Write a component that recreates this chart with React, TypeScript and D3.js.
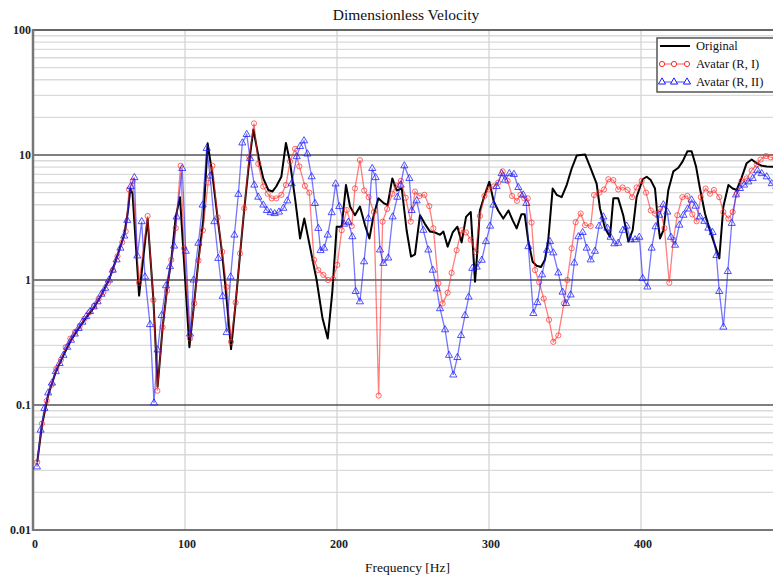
import React from "react";
import * as d3 from "d3";

const W = 773;
const H = 583;

const title = "Dimensionless Velocity";
const xLabel = "Frequency [Hz]";
const xTicks = [0, 100, 200, 300, 400];
const yTicks = [0.01, 0.1, 1, 10, 100];
const yTickLabels = ["0.01", "0.1", "1", "10", "100"];
const seriesNames = ["Original", "Avatar (R, I)", "Avatar (R, II)"];

const origFreq = [2.8, 6, 10, 15, 20, 25, 30, 35, 40, 45, 50, 55, 60, 62.5, 64, 65.5, 69.8, 75.4, 79.2, 82, 85.3, 88.2, 91, 93.9, 96.7, 102.9, 106, 109, 112, 114.9, 118, 121.5, 124.5, 127.4, 130.3, 133.3, 136.2, 139, 142.3, 145, 148.9, 151.5, 154.8, 157.5, 160, 163.4, 166.4, 169, 172.4, 175.7, 178.5, 182, 186.6, 190.4, 193.9, 196.9, 199.8, 203.1, 205.9, 208.6, 211.8, 215.1, 218.4, 221.3, 223.9, 227.2, 231, 233.3, 236.4, 239.3, 242.6, 245.8, 248.7, 251.3, 254.6, 257.9, 261.2, 264.5, 267.8, 270, 272.8, 276.1, 279.2, 282, 284.9, 288, 290.8, 292, 294, 297.2, 300.2, 303, 306, 309.4, 312.8, 315.6, 318.2, 321.3, 323.5, 325.7, 328.7, 331.3, 334.2, 336.8, 339, 341.9, 344.5, 347.8, 351.1, 354.4, 357.7, 363.2, 366.4, 370.8, 373, 376.3, 379.6, 381.8, 385, 388.3, 391.7, 394.5, 397.1, 401.1, 403.7, 406.4, 409.2, 411.4, 412.5, 414.7, 418, 421.3, 424.6, 427.4, 430.5, 433.3, 436.2, 438.8, 442.1, 444.9, 448, 451.5, 454.2, 457.5, 460.3, 463, 466.2, 469.5, 472.8, 476.1, 479.4, 482.7, 490];
const origVal = [0.035, 0.07, 0.12, 0.185, 0.25, 0.33, 0.41, 0.5, 0.6, 0.76, 1.0, 1.5, 2.3, 3.6, 5.4, 4.9, 0.75, 3.1, 0.7, 0.14, 0.42, 0.85, 1.45, 3.2, 4.6, 0.29, 0.65, 1.5, 3.0, 12.4, 7, 3.1, 1.6, 0.7, 0.28, 0.65, 1.6, 3.7, 9, 16, 8.9, 6.5, 5.25, 5.1, 5.6, 6.7, 12.5, 8.9, 4.5, 2.15, 3.1, 1.9, 1.0, 0.5, 0.34, 0.8, 2.67, 2.67, 5.75, 3.87, 3.3, 3.87, 2.75, 2.15, 3.2, 4.5, 4.1, 3.98, 6.5, 5.2, 5.4, 2.5, 1.54, 1.6, 3.3, 2.8, 2.44, 2.4, 2.3, 2.44, 1.85, 2.4, 2.67, 2.0, 3.2, 3.5, 0.97, 1.5, 3.6, 4.8, 6.1, 4.3, 3.6, 3.1, 3.6, 3.0, 2.59, 3.35, 3.35, 2.1, 1.4, 1.3, 1.27, 1.45, 2.1, 5.4, 4.8, 4.6, 5.75, 7.8, 9.9, 10.1, 8.1, 5.9, 3.75, 2.6, 2.22, 4.5, 4.5, 3.3, 2.03, 2.5, 4.6, 6.4, 6.7, 6.3, 5.4, 2.75, 2.15, 2.5, 5.25, 7.4, 7.9, 8.9, 10.7, 10.7, 8.1, 5.4, 3.4, 2.6, 2.0, 1.49, 3.87, 5.75, 5.4, 5.25, 6.6, 8.6, 9.2, 8.6, 8.2, 8.1, 8.0];

const avatar1Freq = [2.8, 5.9, 9.0, 12.2, 15.3, 18.4, 21.5, 24.6, 27.7, 30.8, 33.9, 37.0, 40.1, 43.2, 46.3, 49.4, 52.5, 55.6, 58.7, 61.0, 63.2, 65.6, 69.7, 75.4, 79.2, 81.8, 85.3, 88.2, 91.0, 93.9, 97.1, 99.4, 103.3, 106.1, 108.9, 111.8, 115.2, 118.0, 121.5, 124.5, 127.4, 130.3, 133.3, 136.2, 139.0, 142.3, 145.4, 148.2, 151.5, 154.4, 157.0, 160.1, 163.4, 166.4, 169.1, 172.4, 175.2, 178.9, 181.8, 184.9, 187.7, 191.0, 194.1, 197.4, 200.2, 203.1, 206.4, 209.7, 211.8, 215.1, 217.9, 220.8, 224.3, 227.4, 230.0, 233.0, 236.4, 239.0, 242.0, 245.2, 248.5, 251.3, 254.2, 257.5, 260.7, 263.4, 266.7, 269.5, 272.8, 275.4, 278.7, 282.0, 284.9, 288.0, 291.2, 294.0, 297.0, 299.7, 303.0, 306.0, 309.0, 312.3, 315.2, 318.4, 320.7, 323.2, 325.5, 328.0, 330.3, 333.0, 336.0, 339.5, 342.3, 345.6, 349.3, 351.5, 354.4, 357.0, 360.3, 363.2, 366.9, 369.1, 372.6, 375.7, 378.5, 381.8, 385.0, 387.9, 391.2, 394.1, 397.1, 400.4, 403.3, 406.4, 409.2, 412.5, 415.4, 418.6, 421.3, 423.9, 427.2, 430.5, 433.8, 436.6, 439.3, 442.5, 445.4, 448.0, 451.5, 454.2, 457.5, 460.3, 463.0, 466.2, 469.5, 472.8, 476.1, 478.7, 482.2, 485.3, 488.5];
const avatar1Val = [0.035, 0.071, 0.108, 0.145, 0.195, 0.23, 0.29, 0.34, 0.385, 0.43, 0.49, 0.55, 0.62, 0.71, 0.8, 0.95, 1.2, 1.55, 2.0, 2.45, 5.3, 6.2, 0.95, 3.25, 0.69, 0.13, 0.42, 0.82, 1.45, 2.6, 8.2, 1.79, 0.34, 0.65, 1.43, 2.5, 6.0, 8.2, 3.17, 1.68, 0.88, 0.32, 0.66, 1.63, 3.74, 9.7, 17.9, 8.5, 5.6, 4.9, 4.5, 4.5, 4.8, 5.75, 8.9, 11.2, 8.1, 5.66, 5.0, 1.45, 1.2, 1.1, 1.0, 1.02, 1.32, 2.5, 3.63, 2.7, 5.4, 9.1, 5.2, 4.6, 3.5, 0.119, 2.93, 3.7, 4.9, 5.7, 6.2, 4.55, 2.93, 5.1, 4.7, 4.8, 3.9, 2.59, 0.94, 0.65, 0.79, 1.14, 1.73, 2.5, 2.4, 2.1, 1.68, 3.25, 4.7, 5.3, 5.6, 6.0, 7.4, 6.2, 4.7, 4.3, 4.8, 4.5, 4.5, 2.88, 1.2, 0.96, 0.71, 0.48, 0.32, 0.36, 0.65, 1.0, 1.79, 2.9, 3.4, 2.75, 2.7, 4.78, 5.0, 5.3, 6.4, 6.3, 5.3, 5.5, 5.25, 4.6, 5.5, 6.2, 5.0, 3.6, 3.4, 3.7, 2.6, 0.95, 2.1, 3.3, 4.6, 4.7, 3.35, 2.95, 4.6, 5.4, 4.9, 5.25, 4.6, 3.5, 3.1, 3.5, 4.9, 6.2, 6.5, 7.5, 8.4, 9.2, 9.8, 9.6, 9.3];

const avatar2Freq = [2.6, 5.0, 7.5, 10.0, 12.5, 15.0, 17.5, 20.0, 22.5, 25.0, 27.5, 30.0, 32.5, 35.0, 37.5, 40.0, 42.5, 45.0, 47.5, 50.0, 52.5, 55.0, 57.5, 60.0, 62.0, 64.2, 66.7, 68.6, 71.5, 73.7, 77.0, 79.6, 82.0, 84.6, 87.5, 90.1, 92.8, 94.5, 98.2, 100.5, 103.3, 105.7, 108.8, 111.6, 114.3, 116.5, 119.3, 121.9, 124.8, 127.4, 130.0, 132.5, 135.1, 137.7, 140.6, 142.8, 145.6, 148.2, 151.5, 153.9, 156.4, 159.0, 161.8, 164.7, 167.3, 170.2, 173.5, 175.7, 178.3, 180.5, 183.3, 185.5, 187.7, 189.2, 191.5, 193.9, 196.5, 199.1, 201.5, 204.6, 207.5, 210.1, 212.3, 215.1, 217.8, 220.6, 223.2, 225.4, 228.3, 230.5, 233.7, 236.6, 239.7, 241.9, 244.3, 247.6, 249.1, 252.4, 256.8, 260.1, 263.0, 265.6, 267.8, 271.1, 273.7, 276.5, 279.2, 281.6, 284.2, 286.6, 289.0, 291.9, 295.2, 298.0, 300.7, 302.9, 305.0, 308.3, 310.5, 313.4, 316.4, 319.3, 322.5, 324.6, 325.9, 329.2, 331.8, 334.9, 338.2, 340.1, 342.3, 345.6, 348.4, 350.7, 353.7, 356.1, 358.8, 361.6, 364.3, 366.9, 369.7, 372.4, 375.2, 377.9, 380.0, 382.5, 385.0, 388.0, 390.6, 393.2, 396.1, 398.9, 401.1, 404.2, 407.0, 409.6, 412.0, 414.7, 417.3, 419.7, 422.4, 425.2, 427.9, 430.7, 433.3, 435.9, 438.8, 441.7, 444.3, 447.1, 449.6, 451.5, 454.2, 457.1, 459.7, 462.5, 465.1, 467.8, 470.6, 473.5, 476.6, 479.4, 482.7, 486.0, 489.0];
const avatar2Val = [0.032, 0.063, 0.094, 0.125, 0.15, 0.185, 0.215, 0.25, 0.29, 0.33, 0.37, 0.41, 0.46, 0.51, 0.56, 0.61, 0.67, 0.77, 0.86, 1.0, 1.2, 1.45, 1.8, 2.25, 3.0, 5.6, 6.6, 1.56, 2.93, 1.06, 0.44, 0.104, 0.276, 0.52, 0.9, 1.28, 1.87, 3.2, 7.8, 1.7, 0.37, 1.0, 1.97, 3.98, 11.3, 6.8, 2.93, 1.49, 0.74, 0.38, 1.06, 2.29, 4.85, 12.5, 14.6, 9.4, 5.75, 4.6, 3.98, 3.6, 3.46, 3.4, 3.5, 3.75, 4.3, 5.9, 9.7, 11.7, 13.0, 10.2, 6.7, 4.1, 2.59, 1.72, 1.8, 2.29, 3.46, 5.87, 3.87, 2.8, 2.9, 2.22, 0.81, 0.67, 1.4, 3.1, 7.8, 6.6, 1.74, 1.36, 1.5, 3.2, 4.6, 5.75, 8.2, 6.5, 3.6, 4.3, 2.5, 1.74, 1.2, 0.85, 0.59, 0.4, 0.25, 0.174, 0.24, 0.36, 0.52, 0.73, 1.24, 1.27, 1.44, 2.03, 2.7, 3.98, 5.6, 7.1, 6.3, 7.1, 7.0, 5.5, 4.8, 4.1, 1.85, 0.54, 0.66, 1.1, 1.73, 2.03, 1.65, 1.14, 0.8, 0.65, 0.76, 1.37, 2.22, 2.4, 1.8, 1.45, 1.7, 2.7, 3.2, 2.6, 2.2, 1.95, 1.97, 2.5, 2.7, 2.1, 2.1, 2.2, 1.03, 0.88, 1.8, 2.67, 3.3, 4.0, 3.5, 2.2, 1.9, 2.75, 3.3, 3.7, 4.37, 3.9, 3.2, 2.95, 2.6, 2.4, 1.57, 0.81, 0.42, 1.17, 2.84, 4.8, 5.4, 5.75, 6.1, 6.5, 7.5, 7.1, 6.7, 5.9, 5.6];

const FONT = "'Liberation Serif', 'DejaVu Serif', serif";

export default function App() {
  const x = d3.scaleLinear().domain([0, 500]).range([33, 793]);
  const y = d3.scaleLog().domain([0.01, 100]).range([530, 30]);
  const left = 33;
  const right = W;

  const minor: number[] = [];
  [0.01, 0.1, 1, 10].forEach((d) => {
    for (let k = 2; k <= 9; k++) minor.push(d * k);
  });

  const toPts = (f: number[], v: number[]) => f.map((ff, i) => [ff, v[i]] as [number, number]);
  const line = d3
    .line<[number, number]>()
    .x((d) => x(d[0]))
    .y((d) => y(d[1]));

  const orig = toPts(origFreq, origVal);
  const av1 = toPts(avatar1Freq, avatar1Val);
  const av2 = toPts(avatar2Freq, avatar2Val);
  const tri = d3.symbol().type(d3.symbolTriangle).size(22)() as string;

  const red = "#ff2a2a";
  const blue = "#1a1aff";

  return (
    <svg width={W} height={H} style={{ position: "absolute", left: 0, top: 0, background: "#fff" }} fontFamily={FONT}>
      <defs>
        <clipPath id="plot">
          <rect x={left} y={22} width={right - left} height={516} />
        </clipPath>
      </defs>
      <rect x={0} y={0} width={W} height={H} fill="#fff" />
      {minor.map((m) => (
        <line key={"m" + m} x1={left} x2={right} y1={y(m)} y2={y(m)} stroke="#dadada" strokeWidth={1.4} />
      ))}
      {xTicks.slice(1).map((t) => (
        <line key={"v" + t} x1={x(t)} x2={x(t)} y1={30} y2={530} stroke="#d4d4d4" strokeWidth={1.3} />
      ))}
      {[0.1, 1, 10].map((t) => (
        <line key={"M" + t} x1={left} x2={right} y1={y(t)} y2={y(t)} stroke="#555" strokeWidth={1.5} />
      ))}
      <line x1={left} x2={right} y1={y(100)} y2={y(100)} stroke="#666" strokeWidth={2.2} />
      <line x1={left} x2={left} y1={29} y2={531} stroke="#777" strokeWidth={2.5} />
      <line x1={left} x2={right} y1={530} y2={530} stroke="#777" strokeWidth={2.2} />

      <g clipPath="url(#plot)">
        <path d={line(orig) || ""} fill="none" stroke="#000" strokeWidth={2} strokeLinejoin="round" />
        <path d={line(av1) || ""} fill="none" stroke={red} strokeOpacity={0.6} strokeWidth={1.3} />
        {av1.map((d, i) => (
          <circle key={"r" + i} cx={x(d[0])} cy={y(d[1])} r={2.6} fill="none" stroke={red} strokeOpacity={0.7} strokeWidth={1} />
        ))}
        <path d={line(av2) || ""} fill="none" stroke={blue} strokeOpacity={0.6} strokeWidth={1.3} />
        {av2.map((d, i) => (
          <path key={"b" + i} d={tri} transform={`translate(${x(d[0])},${y(d[1])})`} fill="none" stroke={blue} strokeOpacity={0.75} strokeWidth={1} />
        ))}
      </g>

      {yTicks.map((t, i) => (
        <text key={"yt" + t} x={31} y={y(t) + 4} textAnchor="end" fontSize={12} fontWeight="bold" fill="#222">
          {yTickLabels[i]}
        </text>
      ))}
      {xTicks.map((t) => (
        <text key={"xt" + t} x={x(t) + 2} y={548} textAnchor="middle" fontSize={12} fontWeight="bold" fill="#222">
          {t}
        </text>
      ))}
      <text x={406} y={19.5} textAnchor="middle" fontSize={15.5} fill="#111">
        {title}
      </text>
      <text x={407.5} y={572} textAnchor="middle" fontSize={13.5} fill="#111">
        {xLabel}
      </text>

      <g>
        <rect x={657} y={38} width={130} height={54} fill="#fff" stroke="#555" strokeWidth={1.5} />
        <line x1={660} x2={690} y1={46} y2={46} stroke="#000" strokeWidth={2} />
        <text x={696} y={50} fontSize={12.5} fill="#111">{seriesNames[0]}</text>
        <line x1={660} x2={690} y1={64} y2={64} stroke={red} strokeOpacity={0.6} strokeWidth={1.3} />
        {[662, 674, 687].map((cx) => (
          <circle key={"lr" + cx} cx={cx} cy={64} r={2.6} fill="#fff" stroke={red} strokeWidth={1} />
        ))}
        <text x={696} y={68} fontSize={12.5} fill="#111">{seriesNames[1]}</text>
        <line x1={660} x2={690} y1={82} y2={82} stroke={blue} strokeOpacity={0.6} strokeWidth={1.3} />
        {[662, 674, 687].map((cx) => (
          <path key={"lb" + cx} d={tri} transform={`translate(${cx},${82})`} fill="#fff" stroke={blue} strokeWidth={1} />
        ))}
        <text x={696} y={86} fontSize={12.5} fill="#111">{seriesNames[2]}</text>
      </g>
    </svg>
  );
}
